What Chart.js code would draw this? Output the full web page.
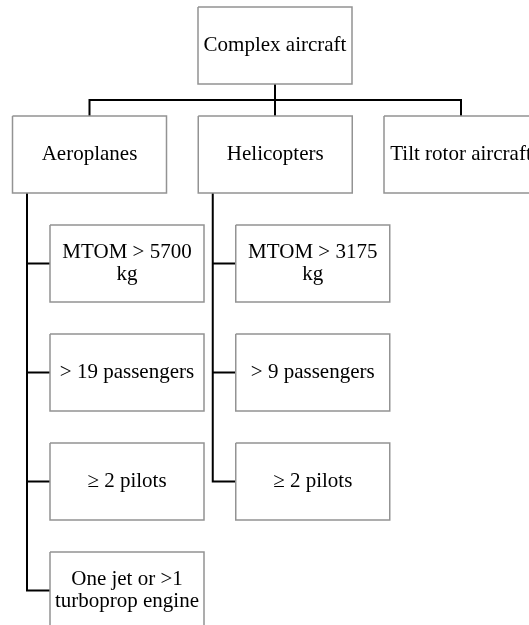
<!DOCTYPE html>
<html><head><meta charset="utf-8">
<script src="https://cdn.jsdelivr.net/npm/chart.js@4/dist/chart.umd.min.js"></script>
<style>html,body{margin:0;padding:0;background:#fff;overflow:hidden}#wrap{width:529px;height:625px;position:relative}</style>
</head><body><div id="wrap"><canvas id="c"></canvas></div>
<script>
// ---- data (tree content) ----
const rootLabel = ['Complex aircraft'];
const categories = ['Aeroplanes', 'Helicopters', 'Tilt rotor aircraft'];
const aeroplaneCriteria = [['MTOM > 5700', 'kg'], ['> 19 passengers'], ['\u2265 2 pilots'], ['One jet or >1', 'turboprop engine']];
const helicopterCriteria = [['MTOM > 3175', 'kg'], ['> 9 passengers'], ['\u2265 2 pilots']];
const tiltRotorCriteria = [];
const criteriaByCategory = [aeroplaneCriteria, helicopterCriteria, tiltRotorCriteria];

// ---- layout (in axis units) ----
const W = 529, H = 625;
const BOX_W = 154, BOX_H = 77;
const ROOT_CX = 275, ROOT_TOP = 7;
const COL0 = 89.5, COL_STEP = 185.75;
const BUS_Y = 100, ROW2_TOP = 116;
const TRUNK_OFF = 62.5, CHILD_GAP = 23;
const CHILD_TOP0 = 225, CHILD_STEP = 109;
const FONT_PX = 21, LINE_H = 22;
const BOX_COLOR = '#939393', LINK_COLOR = '#000000';

const nodes = [];
const links = [];
function box(cx, top, lines) {
  const n = { x0: cx - BOX_W / 2, x1: cx + BOX_W / 2, y0: top, y1: top + BOX_H, lines };
  nodes.push(n); return n;
}
const root = box(ROOT_CX, ROOT_TOP, rootLabel);
const colCenters = categories.map((_, i) => COL0 + i * COL_STEP);
// root drop and bus
links.push([[ROOT_CX, root.y1], [ROOT_CX, ROW2_TOP]]);
links.push([[colCenters[0], ROW2_TOP], [colCenters[0], BUS_Y], [colCenters[colCenters.length - 1], BUS_Y], [colCenters[colCenters.length - 1], ROW2_TOP]]);
categories.forEach((name, i) => {
  const cx = colCenters[i];
  const b = box(cx, ROW2_TOP, [name]);
  const crit = criteriaByCategory[i];
  if (!crit.length) return;
  const tx = cx - TRUNK_OFF;
  const childLeft = tx + CHILD_GAP;
  crit.forEach((lines, k) => {
    const top = CHILD_TOP0 + k * CHILD_STEP;
    const c = box(childLeft + BOX_W / 2, top, lines);
    const cy = top + BOX_H / 2;
    if (k === crit.length - 1) {
      links.push([[tx, b.y1], [tx, cy], [childLeft, cy]]);
    } else {
      links.push([[tx, cy], [childLeft, cy]]);
    }
  });
});

const datasets = [];
nodes.forEach(n => {
  datasets.push({
    data: [{x: n.x0, y: n.y0}, {x: n.x1, y: n.y0}, {x: n.x1, y: n.y1}, {x: n.x0, y: n.y1}, {x: n.x0, y: n.y0}],
    showLine: true, borderColor: BOX_COLOR, borderWidth: 1.5, pointRadius: 0, fill: false,
    borderJoinStyle: 'miter', tension: 0
  });
});
links.forEach(seg => {
  datasets.push({
    data: seg.map(p => ({x: p[0], y: p[1]})),
    showLine: true, borderColor: LINK_COLOR, borderWidth: 2, pointRadius: 0, fill: false,
    borderJoinStyle: 'miter', tension: 0
  });
});

const labelPlugin = {
  id: 'boxLabels',
  afterDatasetsDraw(chart) {
    const ctx = chart.ctx, xs = chart.scales.x, ys = chart.scales.y;
    ctx.save();
    ctx.font = FONT_PX + 'px "Liberation Serif", "Times New Roman", serif';
    ctx.fillStyle = '#000';
    ctx.textAlign = 'center';
    ctx.textBaseline = 'middle';
    nodes.forEach(n => {
      const px = xs.getPixelForValue((n.x0 + n.x1) / 2);
      const py = ys.getPixelForValue((n.y0 + n.y1) / 2);
      const nl = n.lines.length;
      n.lines.forEach((t, j) => {
        ctx.fillText(t, px, py + (j - (nl - 1) / 2) * LINE_H);
      });
    });
    ctx.restore();
  }
};

new Chart(document.getElementById('c'), {
  type: 'scatter',
  data: { datasets },
  options: {
    responsive: true, maintainAspectRatio: false, animation: false,
    layout: { padding: 0 },
    plugins: { legend: { display: false }, tooltip: { enabled: false } },
    scales: {
      x: { type: 'linear', min: 0, max: W, display: false },
      y: { type: 'linear', min: 0, max: H, reverse: true, display: false }
    },
    elements: { line: { tension: 0 } }
  },
  plugins: [labelPlugin]
});
</script></body></html>
